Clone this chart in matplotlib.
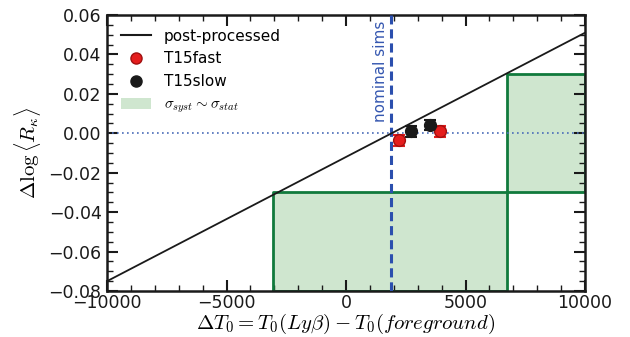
import matplotlib
matplotlib.use("Agg")
import matplotlib.pyplot as plt
import numpy as np
from matplotlib.patches import Patch
from matplotlib.lines import Line2D

plt.rcParams['mathtext.fontset'] = 'cm'
plt.rcParams['font.family'] = ['DejaVu Sans']

# post-processed line endpoints
line_x = [-10000, 10000]
line_y = [-0.075, 0.051]

# simulation points
fast_x = [2200, 3950]
fast_y = [-0.0035, 0.0010]
fast_err = [0.0028, 0.0028]
slow_x = [2700, 3500]
slow_y = [0.0010, 0.0040]
slow_err = [0.0028, 0.0025]

nominal_x = 1880

# sigma_syst ~ sigma_stat regions: (x0, x1, y0, y1)
box_lo = [-3050, 6750, -0.08, -0.03]
box_hi = [6750, 10000, -0.03, 0.03]

fig = plt.figure(figsize=(6.3, 3.37), dpi=100)
ax = fig.add_axes([0.170, 0.1365, 0.7586, 0.819])

green_fill = '#cfe6cf'
green_edge = '#117a3c'
for (x0, x1, y0, y1) in [box_lo, box_hi]:
    ax.fill_between([x0, x1], y0, y1, facecolor=green_fill, edgecolor='none', zorder=1)
    ax.plot([x0, x0, x1, x1, x0], [y0, y1, y1, y0, y0], color=green_edge, lw=2, zorder=2, clip_on=True)

ax.axhline(0, color='#4a6cb8', ls=(0, (1, 2)), lw=1.2, zorder=2)
ax.axvline(nominal_x, color='#2b4fae', ls=(0, (3, 1.6)), lw=2.2, zorder=3)
ax.text(nominal_x - 130, 0.057, 'nominal sims', rotation=90, color='#3557b0',
        ha='right', va='top', fontsize=11)

ax.plot(line_x, line_y, color='#1a1a1a', lw=1.3, zorder=4)

ax.errorbar(fast_x, fast_y, yerr=fast_err, fmt='o', color='#e51d1d', mec='#a01010',
            ms=8.5, capsize=4, elinewidth=1.5, capthick=1.5, zorder=5)
ax.errorbar(slow_x, slow_y, yerr=slow_err, fmt='o', color='#1a1a1a', mec='#1a1a1a',
            ms=8.5, capsize=4, elinewidth=1.5, capthick=1.5, zorder=5)

ax.set_xlim(-10000, 10000)
ax.set_ylim(-0.08, 0.06)
ax.set_xticks([-10000, -5000, 0, 5000, 10000])
ax.set_yticks(np.arange(-0.08, 0.0601, 0.02))
ax.set_yticklabels(['\u22120.08', '\u22120.06', '\u22120.04', '\u22120.02', '0.00', '0.02', '0.04', '0.06'])
ax.set_xticklabels(['\u221210000', '\u22125000', '0', '5000', '10000'])
ax.set_xticks(np.arange(-10000, 10001, 1000), minor=True)
ax.set_yticks(np.arange(-0.08, 0.0601, 0.005), minor=True)
ax.tick_params(which='both', direction='in', top=True, right=True, labelsize=12.5, colors='#1a1a1a')
ax.tick_params(which='major', length=8, width=1.5, pad=4)
ax.tick_params(axis='x', which='major', pad=2)
ax.tick_params(which='minor', length=4, width=1)
for s in ax.spines.values():
    s.set_linewidth(1.8)
    s.set_color('#1a1a1a')

ax.set_xlabel(r'$\Delta T_0 = T_0(Ly\beta) - T_0(foreground)$', fontsize=15, labelpad=0)
ax.set_ylabel(r'$\Delta \log \langle R_\kappa \rangle$', fontsize=15, labelpad=4)

handles = [
    Line2D([0], [0], color='#1a1a1a', lw=1.5),
    Line2D([0], [0], marker='o', color='#e51d1d', mec='#a01010', ls='none', ms=8),
    Line2D([0], [0], marker='o', color='#1a1a1a', ls='none', ms=8),
    Patch(facecolor=green_fill, edgecolor='none'),
]
labels = ['post-processed', 'T15fast', 'T15slow', r'$\sigma_{syst} \sim \sigma_{stat}$']
ax.legend(handles, labels, loc='upper left', frameon=False, fontsize=11,
          borderaxespad=0.5, handlelength=2.0, labelspacing=0.5)

fig.savefig('out.png', dpi=100)
